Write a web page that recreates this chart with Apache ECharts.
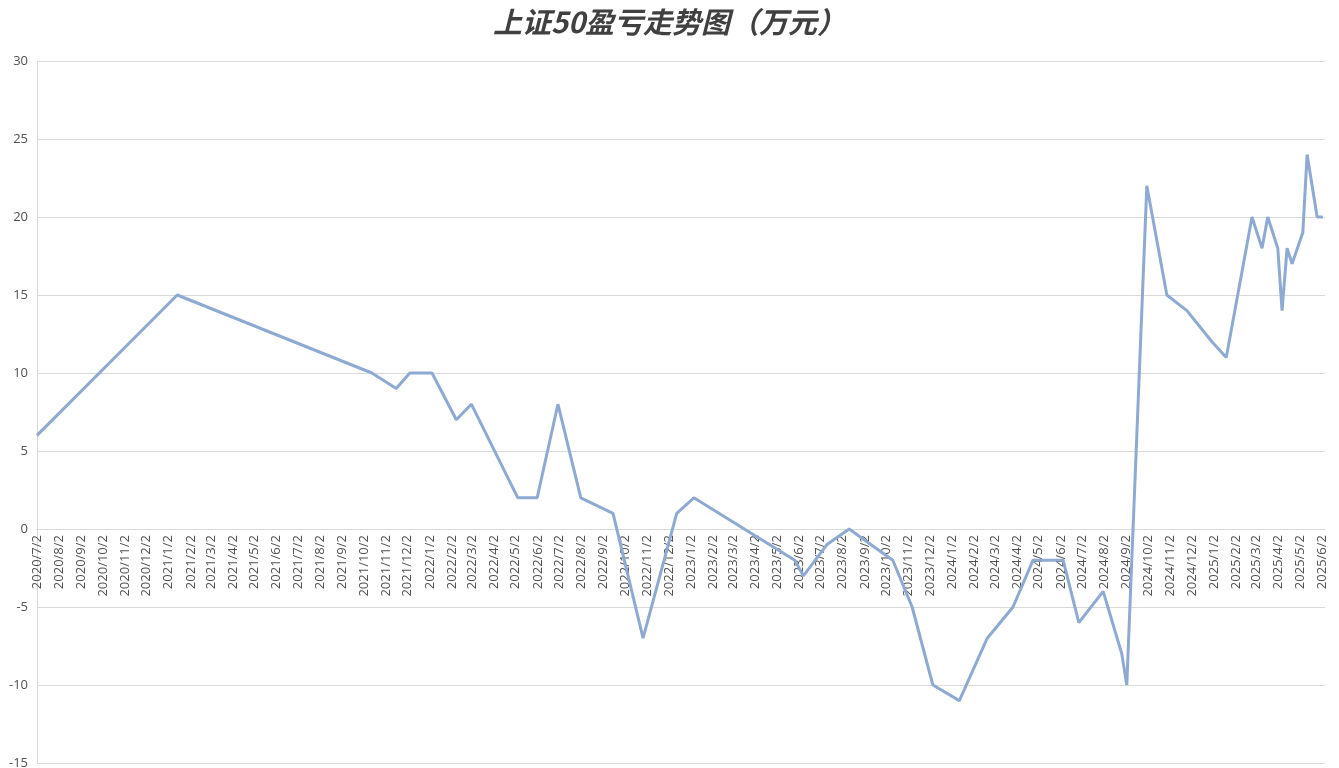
<!DOCTYPE html>
<html>
<head>
<meta charset="utf-8">
<script src="https://cdn.jsdelivr.net/npm/echarts@6/dist/echarts.min.js"></script>
<style>
html,body{margin:0;padding:0;background:#fff;}
#chart{width:1339px;height:768px;}
</style>
</head>
<body>
<div id="chart"></div>
<script>
const titleText = '上证50盈亏走势图（万元）';
const dates = ['2020/7/2','2021/1/14','2021/10/13','2021/11/16','2021/12/5','2022/1/5','2022/2/8','2022/3/1',
  '2022/5/5','2022/6/1','2022/6/30','2022/8/1','2022/9/15','2022/10/27','2022/12/13','2023/1/6',
  '2023/5/27','2023/6/8','2023/7/11','2023/8/11','2023/10/11','2023/11/7','2023/12/6','2024/1/12',
  '2024/2/20','2024/3/27','2024/4/24','2024/6/5','2024/6/27','2024/7/31','2024/8/26','2024/9/2',
  '2024/9/30','2024/10/28','2024/11/25','2024/12/30','2025/1/19','2025/2/24','2025/3/10','2025/3/18',
  '2025/4/1','2025/4/7','2025/4/14','2025/4/21','2025/5/6','2025/5/12','2025/5/26','2025/6/3'];
const values = [6,15,10,9,10,10,7,8,
  2,2,8,2,1,-7,1,2,
  -2,-3,-1,0,-2,-5,-10,-11,
  -7,-5,-2,-2,-6,-4,-8,-10,
  22,15,14,12,11,20,18,20,
  18,14,18,17,19,24,20,20];
const tickLabels = ['2020/7/2','2020/8/2','2020/9/2','2020/10/2','2020/11/2','2020/12/2',
  '2021/1/2','2021/2/2','2021/3/2','2021/4/2','2021/5/2','2021/6/2','2021/7/2','2021/8/2','2021/9/2','2021/10/2','2021/11/2','2021/12/2',
  '2022/1/2','2022/2/2','2022/3/2','2022/4/2','2022/5/2','2022/6/2','2022/7/2','2022/8/2','2022/9/2','2022/10/2','2022/11/2','2022/12/2',
  '2023/1/2','2023/2/2','2023/3/2','2023/4/2','2023/5/2','2023/6/2','2023/7/2','2023/8/2','2023/9/2','2023/10/2','2023/11/2','2023/12/2',
  '2024/1/2','2024/2/2','2024/3/2','2024/4/2','2024/5/2','2024/6/2','2024/7/2','2024/8/2','2024/9/2','2024/10/2','2024/11/2','2024/12/2',
  '2025/1/2','2025/2/2','2025/3/2','2025/4/2','2025/5/2','2025/6/2'];
const xMin = '2020/7/2';
const xMax = '2025/6/6';
const yMin = -15, yMax = 30, yStep = 5;

const DAY = 86400000;
function dayNum(s){ const p = s.split('/').map(Number); return Date.UTC(p[0], p[1]-1, p[2]) / DAY; }
const base = dayNum(xMin);
function dx(s){ return dayNum(s) - base; }
const tickPos = tickLabels.map(dx);
const seriesData = dates.map((d,i)=>[dx(d), values[i]]);

const W = 1339, H = 768, gTop = 61, gBottom = 5;
const plotH = H - gTop - gBottom;
// shift the x axis (labels) up from the grid bottom to the y = 0 line
const zeroOffset = -plotH * (0 - yMin) / (yMax - yMin);

const chart = echarts.init(document.getElementById('chart'), null, {renderer:'canvas'});
chart.setOption({
  animation:false,
  backgroundColor:'#ffffff',
  title:{
    text:titleText, left:'center', top:2,
    textStyle:{fontFamily:'"Noto Sans CJK SC"', fontSize:29, fontWeight:'bold', fontStyle:'italic', color:'#404040'}
  },
  grid:{left:37, right:14, top:gTop, bottom:gBottom, containLabel:false, outerBoundsMode:'none'},
  xAxis:{
    type:'value', min:0, max:dx(xMax), position:'bottom', offset:zeroOffset,
    axisLine:{show:true, onZero:false, lineStyle:{color:'#d9d9d9', width:1}},
    axisTick:{show:false},
    splitLine:{show:false},
    axisLabel:{
      customValues:tickPos, rotate:90, margin:6, hideOverlap:false,
      fontFamily:'"Open Sans"', fontSize:13, color:'#505050',
      formatter:function(v){ const i = tickPos.indexOf(Math.round(v)); return i >= 0 ? tickLabels[i] : ''; }
    }
  },
  yAxis:{
    type:'value', min:yMin, max:yMax, interval:yStep,
    axisLine:{show:true, onZero:false, lineStyle:{color:'#d9d9d9'}},
    axisTick:{show:false},
    splitLine:{show:true, lineStyle:{color:'#d9d9d9', width:1}},
    axisLabel:{fontFamily:'"Open Sans"', fontSize:13, color:'#505050', margin:9}
  },
  series:[{
    type:'line', data:seriesData, showSymbol:false, symbol:'none',
    lineStyle:{color:'#8EA9D2', width:3}, z:3
  }]
});
</script>
</body>
</html>
